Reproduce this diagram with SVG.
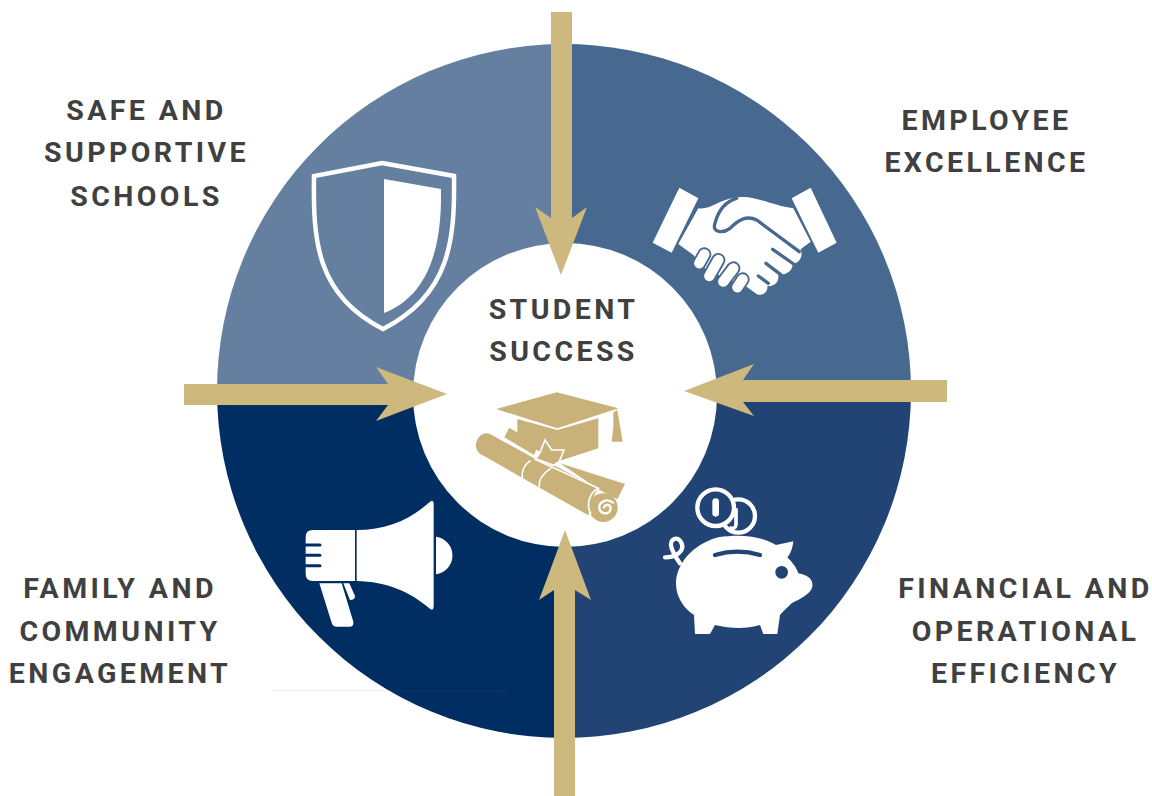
<svg xmlns="http://www.w3.org/2000/svg" width="1152" height="796" viewBox="0 0 1152 796">
<style>
text{font-family:Roboto,"Liberation Sans",sans-serif;font-weight:700;font-size:28.5px;letter-spacing:3.4px;fill:#404040;text-anchor:middle}
.w{fill:#fff}
.g{fill:#c9b27a}
.arrow{fill:#cdb87e}
</style>
<g id="ring">
<path d="M561,391V44A347,347 0 0 0 217,391Z" fill="#647f9f"/>
<path d="M561,391V44A347,347 0 0 1 911,391Z" fill="#48698f"/>
<path d="M564,391H911A347,347 0 0 1 564,738Z" fill="#214475"/>
<path d="M564,391H217A347,347 0 0 0 564,738Z" fill="#002d62"/>
<circle cx="565" cy="395" r="152" fill="#fff"/>
<path d="M272,690.5H507" stroke="#808080" stroke-opacity=".1"/>
</g>
<g id="connectors" class="arrow">
<path d="M551,12H572V218L587,207L561,275L535,207L551,218Z"/>
<path d="M554,796H575V590L591,600L565,530L539,600L554,590Z"/>
<path d="M184,384H388L376,367L447,394L376,421L388,405H184Z"/>
<path d="M947,380H743L754,364L684,391L754,416L743,402H947Z"/>
</g>
<g id="safe">
<path d="M382,163L454,176C455,240 450,295 383,329C316,295 313,240 314,176Z" fill="none" stroke="#fff" stroke-width="4.5"/>
<path class="w" d="M384,179L441,189C442,245 430,295 384,313Z"/>
<text x="146.500" y="120">SAFE AND</text>
<text x="146.500" y="162">SUPPORTIVE</text>
<text x="146.500" y="206">SCHOOLS</text>
</g>
<g id="employee">
<g transform="translate(640,170) scale(.3333)">
<path class="w" d="M118,53L175,85L95,248L38,218Z"/>
<path class="w" d="M512,53L455,85L535,248L590,218Z"/>
<path class="w" d="M175,115C210,122 240,85 295,82C345,75 390,105 460,115L512,215L482,238C490,258 480,278 458,282C458,302 440,315 415,315C418,338 400,350 382,348C385,368 365,380 350,372L322,352L200,300L160,255L115,222Z"/>
<g fill="none" stroke-linecap="round">
<path d="M193,253L178,280M235,270L208,318M280,295L250,335M308,328L292,352" stroke="#48698f" stroke-width="42"/>
<path d="M193,253L178,280M235,270L208,318M280,295L250,335M308,328L292,352" stroke="#fff" stroke-width="31"/>
<path d="M290,85C255,95 235,120 225,160C215,190 250,190 270,175C295,150 320,135 350,150L478,245M398,238L465,285M378,280L430,320M355,318L385,340" stroke="#48698f" stroke-width="10"/>
</g>
</g>
<text x="986.500" y="130">EMPLOYEE</text>
<text x="986.500" y="172">EXCELLENCE</text>
</g>
<g id="center">
<text x="563.500" y="319">STUDENT</text>
<text x="563.500" y="361">SUCCESS</text>
<g transform="translate(460,380) scale(.3333)">
<path class="g" d="M108,87L290,37L475,85L292,145Z"/>
<path class="g" d="M460,97L472,90L488,185H455L460,140Z"/>
<path class="g" d="M172,117L292,150L415,115V205L300,242L240,215L172,178Z"/>
<path class="g" d="M148,143L235,195L222,225L133,172Z"/>
<path class="g" d="M300,250L495,312L472,358L415,328Z"/>
<path class="g" d="M90,162C65,152 45,180 48,200C50,214 58,220 68,226L385,406L405,340L415,325L280,255L225,236Z"/>
<path class="g" d="M255,180L275,210L312,210L298,244L280,256L228,236L240,218Z" stroke="#fff" stroke-width="5"/>
<circle class="g" cx="430" cy="383" r="43"/>
<g fill="none" stroke="#fff" stroke-width="5" stroke-linecap="round">
<path d="M225,238L415,325C388,338 378,375 392,400"/>
<path d="M210,243C192,255 185,275 187,292M272,265C250,280 235,300 238,320"/>
<path d="M459,368C440,352 415,368 418,385C422,405 450,405 452,385C452,372 436,372 432,382" stroke-width="7"/>
</g>
</g>
</g>
<g id="financial">
<g transform="translate(650,480) scale(.3333)">
<circle cx="265" cy="108" r="50" fill="#214475" stroke="#fff" stroke-width="13"/>
<path d="M258,85V135Q255,150 238,143" fill="none" stroke="#fff" stroke-width="11"/>
<circle cx="197" cy="83" r="55" fill="#214475" stroke="#fff" stroke-width="13"/>
<rect class="w" x="187" y="55" width="20" height="55" rx="10"/>
<path class="w" d="M205,172C280,160 340,172 378,195L430,184C428,205 420,225 412,232C430,250 440,265 445,280C475,285 490,300 487,320C480,345 450,355 425,370C410,385 398,395 390,405L382,462H340L330,435C290,447 245,447 195,435L180,462H135L132,405C100,385 78,350 78,310C78,260 120,195 205,172Z"/>
<path d="M195,225Q262,205 330,225" fill="none" stroke="#214475" stroke-width="13" stroke-linecap="round"/>
<circle cx="395" cy="277" r="19" fill="#214475"/>
<path d="M45,232C75,232 105,215 95,190C85,165 55,175 65,205C72,225 82,240 90,250" fill="none" stroke="#fff" stroke-width="13" stroke-linecap="round"/>
</g>
<text x="1025.500" y="598">FINANCIAL AND</text>
<text x="1025.500" y="641">OPERATIONAL</text>
<text x="1025.500" y="683">EFFICIENCY</text>
</g>
<g id="family">
<g transform="translate(290,490) scale(.3333)">
<path class="w" d="M68,120H195V273H68Q47,273 47,252V141Q47,120 68,120Z"/>
<path d="M47,165H90M47,196H90M47,227H90" stroke="#002d62" stroke-width="9" stroke-linecap="round"/>
<path class="w" d="M200,120C290,120 360,90 420,35Q430,28 431,40V350Q430,365 418,355C360,305 290,275 200,273Z"/>
<path class="w" d="M438,140A57,57 0 0 1 438,253Z"/>
<path class="w" d="M88,280H155L190,395Q192,410 178,410H140Q128,410 125,398Z"/>
<path class="w" d="M160,280H178L195,318Q195,330 180,330Z"/>
</g>
<text x="120" y="598">FAMILY AND</text>
<text x="120" y="641">COMMUNITY</text>
<text x="120" y="683">ENGAGEMENT</text>
</g>
</svg>
